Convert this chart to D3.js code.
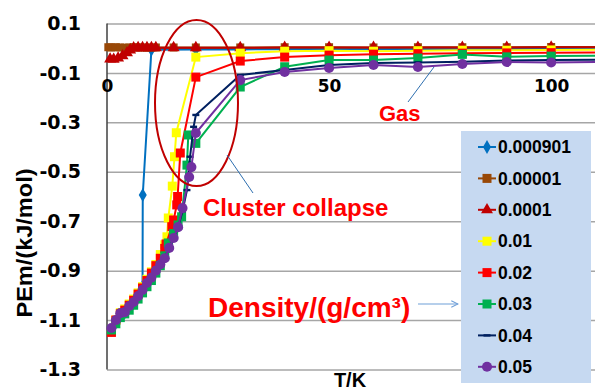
<!DOCTYPE html>
<html>
<head>
<meta charset="utf-8">
<script src="https://cdn.jsdelivr.net/npm/d3@7"></script>
<style>
  body { margin: 0; background: #fff; }
  svg { display: block; }
</style>
</head>
<body>
<div id="chart"></div>
<script>
// density series (g/cm3), in plotting order
const seriesNames = ['0.000901', '0.00001', '0.0001', '0.01', '0.02', '0.03', '0.04', '0.05'];
const seriesColors = ['#0070C0', '#984807', '#C00000', '#FFFF00', '#FF0000', '#00B050', '#002060', '#7030A0'];
const seriesMarkers = ['diamond', 'square', 'triangle', 'square', 'square', 'square', 'dash', 'circle'];

// temperature (K) and PEm (kJ/mol) for each density
const tBlue = [1, 2, 3, 4, 5, 6, 7, 8, 8.05, 10, 20, 30, 40, 50, 60, 70, 80, 90, 100, 120];
const peBlue = [-1.14, -1.11, -1.085, -1.07, -1.05, -1.03, -1.0, -0.965, -0.594, -0.006, -0.005, -0.005, -0.004, -0.004, -0.004, -0.003, -0.003, -0.003, -0.003, -0.002];

const tBrown = [0.3, 1, 2, 3, 4, 5, 6, 7, 8, 9, 10, 11, 15, 20, 30, 40, 50, 60, 70, 80, 90, 100, 120];
const peBrown = [0.004, 0.003, 0.004, 0.003, 0.002, 0.003, 0.004, 0.003, 0.003, 0.002, 0.003, 0.003, 0.003, 0.003, 0.003, 0.004, 0.004, 0.003, 0.004, 0.004, 0.004, 0.005, 0.004];

const tDarkRed = [0.7, 1.5, 2.5, 3.5, 4.5, 5.2, 6, 7, 8, 9, 10, 11, 15, 20, 30, 40, 50, 60, 70, 80, 90, 100, 120];
const peDarkRed = [-0.044, -0.045, -0.04, -0.031, -0.019, -0.007, 0.001, 0.002, 0.002, 0.002, 0.002, 0.002, 0.002, 0.002, 0.002, 0.003, 0.003, 0.003, 0.003, 0.003, 0.003, 0.004, 0.003];

const tYellow = [1, 2, 3, 4, 5, 6, 7, 8, 9, 10, 11, 12, 13, 13.5, 13.8, 14.7, 15.2, 15.6, 20, 30, 40, 50, 60, 70, 80, 90, 100, 120];
const peYellow = [-1.145, -1.1, -1.07, -1.055, -1.035, -1.015, -0.99, -0.965, -0.935, -0.905, -0.875, -0.835, -0.795, -0.763, -0.687, -0.558, -0.439, -0.342, -0.036, -0.02, -0.012, -0.01, -0.012, -0.01, -0.008, -0.008, -0.007, -0.006];

const tRed = [1, 2, 3, 4, 5, 6, 7, 8, 9, 10, 11, 12, 13, 13.3, 14.6, 15, 15.7, 15.9, 16.5, 20, 30, 40, 50, 60, 70, 80, 90, 100, 120];
const peRed = [-1.15, -1.1, -1.075, -1.06, -1.04, -1.02, -0.995, -0.97, -0.94, -0.91, -0.88, -0.85, -0.81, -0.792, -0.722, -0.695, -0.634, -0.6, -0.424, -0.117, -0.052, -0.036, -0.028, -0.024, -0.022, -0.02, -0.019, -0.018, -0.016];

const tGreen = [1, 2, 3, 4, 5, 6, 7, 8, 9, 10, 11, 12, 13, 13.8, 15, 16, 16.8, 18, 18.3, 20, 30, 40, 50, 60, 70, 80, 90, 100, 120];
const peGreen = [-1.14, -1.115, -1.09, -1.075, -1.06, -1.04, -1.015, -0.99, -0.965, -0.94, -0.91, -0.88, -0.84, -0.788, -0.75, -0.715, -0.682, -0.473, -0.351, -0.385, -0.157, -0.075, -0.048, -0.048, -0.04, -0.025, -0.035, -0.032, -0.028];

const tNavy = [1, 2, 3, 4, 5, 6, 7, 8, 9, 10, 11, 12, 13, 14, 15, 16, 17, 18, 18.7, 19.5, 20, 30, 40, 50, 60, 70, 80, 90, 100, 120];
const peNavy = [-1.135, -1.105, -1.08, -1.065, -1.047, -1.028, -1.005, -0.98, -0.952, -0.927, -0.9, -0.873, -0.846, -0.81, -0.77, -0.725, -0.66, -0.574, -0.439, -0.318, -0.27, -0.108, -0.088, -0.068, -0.06, -0.058, -0.055, -0.05, -0.048, -0.045];

const tPurple = [1, 2, 3, 4, 5, 6, 7, 8, 9, 10, 11, 12, 13, 14, 15, 16, 17, 18.5, 19, 20, 30, 40, 50, 60, 70, 80, 90, 100, 120];
const pePurple = [-1.132, -1.1, -1.072, -1.068, -1.043, -1.027, -1.003, -0.978, -0.95, -0.928, -0.9, -0.875, -0.85, -0.808, -0.768, -0.724, -0.647, -0.521, -0.481, -0.343, -0.129, -0.096, -0.08, -0.068, -0.076, -0.064, -0.056, -0.058, -0.054];

const allT = [tBlue, tBrown, tDarkRed, tYellow, tRed, tGreen, tNavy, tPurple];
const allPE = [peBlue, peBrown, peDarkRed, peYellow, peRed, peGreen, peNavy, pePurple];

const yTicks = [0.1, -0.1, -0.3, -0.5, -0.7, -0.9, -1.1, -1.3];
const xTicks = [0, 50, 100];

const width = 595, height = 392;
const plotLeft = 107, plotTop = 23.5, plotBottom = 369.5;

const svg = d3.select('#chart').append('svg')
    .attr('width', width)
    .attr('height', height);

const x = d3.scaleLinear().domain([0, 120]).range([plotLeft, 640]);
const y = d3.scaleLinear().domain([-1.3, 0.1]).range([plotBottom, plotTop]);

// gridlines
svg.append('g')
    .attr('transform', 'translate(' + plotLeft + ',0)')
    .call(d3.axisLeft(y).tickValues(yTicks).tickSize(-(width - plotLeft)).tickFormat(''))
    .call(g => g.select('.domain').remove())
    .selectAll('line')
    .attr('stroke', '#a6a6a6')
    .attr('stroke-width', 1.5);

// y axis labels (plain hyphen for minus, as in the original)
svg.append('g')
    .attr('transform', 'translate(81,0)')
    .call(d3.axisLeft(y).tickValues(yTicks).tickSize(0).tickPadding(0)
        .tickFormat(d => d.toFixed(1)))
    .call(g => g.select('.domain').remove())
    .selectAll('text')
    .attr('font-family', 'DejaVu Sans')
    .attr('font-weight', 'bold')
    .attr('font-size', 19)
    .attr('fill', '#000');

// y axis line
svg.append('line')
    .attr('x1', plotLeft).attr('x2', plotLeft)
    .attr('y1', plotTop).attr('y2', plotBottom)
    .attr('stroke', '#404040')
    .attr('stroke-width', 1.5);

// x axis at PEm = 0
svg.append('g')
    .attr('transform', 'translate(0,' + y(0) + ')')
    .call(d3.axisBottom(x).tickValues(xTicks).tickSize(0).tickPadding(32))
    .call(g => g.select('.domain').attr('stroke', '#404040').attr('stroke-width', 1.5))
    .selectAll('text')
    .attr('font-family', 'DejaVu Sans')
    .attr('font-weight', 'bold')
    .attr('font-size', 17)
    .attr('fill', '#000');

// clip for data
svg.append('clipPath').attr('id', 'plotclip')
    .append('rect').attr('x', 0).attr('y', 0).attr('width', width).attr('height', plotBottom);

const line = d3.line().x(d => x(d[0])).y(d => y(d[1]));

function markerPath(kind) {
  if (kind === 'diamond') return d3.symbol(d3.symbolDiamond, 55)();
  if (kind === 'triangle') return d3.symbol(d3.symbolTriangle, 62)();
  if (kind === 'circle') return d3.symbol(d3.symbolCircle, 80)();
  if (kind === 'dash') return 'M-3.5,-1.2H3.5V1.2H-3.5Z';
  return null;
}

function drawMarker(g, kind, color, px, py, size) {
  if (kind === 'square') {
    g.append('rect')
        .attr('x', px - size / 2).attr('y', py - size / 2)
        .attr('width', size).attr('height', size)
        .attr('fill', color);
  } else {
    g.append('path')
        .attr('d', markerPath(kind))
        .attr('transform', 'translate(' + px + ',' + py + ')')
        .attr('fill', color);
  }
}

const dataG = svg.append('g').attr('clip-path', 'url(#plotclip)');

seriesNames.forEach((name, i) => {
  const pts = allT[i].map((t, j) => [t, allPE[i][j]]);
  const g = dataG.append('g');
  g.append('path')
      .datum(pts)
      .attr('fill', 'none')
      .attr('stroke', seriesColors[i])
      .attr('stroke-width', 2)
      .attr('d', line);
  const sq = i === 1 ? 8 : 9;
  pts.forEach(p => drawMarker(g, seriesMarkers[i], seriesColors[i], x(p[0]), y(p[1]), sq));
});

// annotations
svg.append('ellipse')
    .attr('cx', 196.5).attr('cy', 103)
    .attr('rx', 41.5).attr('ry', 83)
    .attr('fill', 'none')
    .attr('stroke', '#C00000')
    .attr('stroke-width', 2);

svg.append('line')
    .attr('x1', 227).attr('y1', 155).attr('x2', 253).attr('y2', 193)
    .attr('stroke', '#2e6fb0').attr('stroke-width', 1);
svg.append('line')
    .attr('x1', 434).attr('y1', 67).attr('x2', 408).attr('y2', 102)
    .attr('stroke', '#2e6fb0').attr('stroke-width', 1);

svg.append('defs').append('marker')
    .attr('id', 'openarrow')
    .attr('viewBox', '0 0 10 10')
    .attr('refX', 9).attr('refY', 5)
    .attr('markerWidth', 7).attr('markerHeight', 7)
    .attr('orient', 'auto')
    .append('path')
    .attr('d', 'M1,1L9,5L1,9')
    .attr('fill', 'none')
    .attr('stroke', '#6f9fd8')
    .attr('stroke-width', 1.3);

svg.append('line')
    .attr('x1', 418).attr('y1', 304).attr('x2', 458).attr('y2', 304)
    .attr('stroke', '#6f9fd8').attr('stroke-width', 1.2)
    .attr('marker-end', 'url(#openarrow)');

const notes = [
  { text: 'Cluster collapse', x: 203, y: 216, size: 24 },
  { text: 'Gas', x: 379, y: 121, size: 22 },
  { text: 'Density/(g/cm³)', x: 208, y: 317, size: 28 }
];
svg.selectAll('text.note')
    .data(notes).enter().append('text')
    .attr('class', 'note')
    .attr('x', d => d.x).attr('y', d => d.y)
    .attr('font-family', 'Liberation Sans, Arial, sans-serif')
    .attr('font-weight', 'bold')
    .attr('font-size', d => d.size)
    .attr('fill', '#FF0000')
    .text(d => d.text);

// axis titles
svg.append('text')
    .attr('transform', 'translate(32,243) rotate(-90)')
    .attr('text-anchor', 'middle')
    .attr('font-family', 'Liberation Sans, Arial, sans-serif')
    .attr('font-weight', 'bold')
    .attr('font-size', 22)
    .attr('textLength', 149)
    .attr('lengthAdjust', 'spacingAndGlyphs')
    .text('PEm/(kJ/mol)');

svg.append('text')
    .attr('x', 350).attr('y', 387)
    .attr('text-anchor', 'middle')
    .attr('font-family', 'Liberation Sans, Arial, sans-serif')
    .attr('font-weight', 'bold')
    .attr('font-size', 20)
    .text('T/K');

// legend
const legend = svg.append('g');
legend.append('rect')
    .attr('x', 461).attr('y', 131)
    .attr('width', 130).attr('height', 252)
    .attr('fill', '#C6D9F1');

seriesNames.forEach((name, i) => {
  const ly = 147 + i * 31.4;
  legend.append('line')
      .attr('x1', 478).attr('x2', 496)
      .attr('y1', ly).attr('y2', ly)
      .attr('stroke', seriesColors[i])
      .attr('stroke-width', 2);
  drawMarker(legend, seriesMarkers[i], seriesColors[i], 487, ly, 9);
  legend.append('text')
      .attr('x', 498).attr('y', ly)
      .attr('dy', '0.35em')
      .attr('font-family', 'Liberation Sans, Arial, sans-serif')
      .attr('font-weight', 'bold')
      .attr('font-size', 17.5)
      .attr('fill', '#000')
      .text(name);
});
</script>
</body>
</html>
